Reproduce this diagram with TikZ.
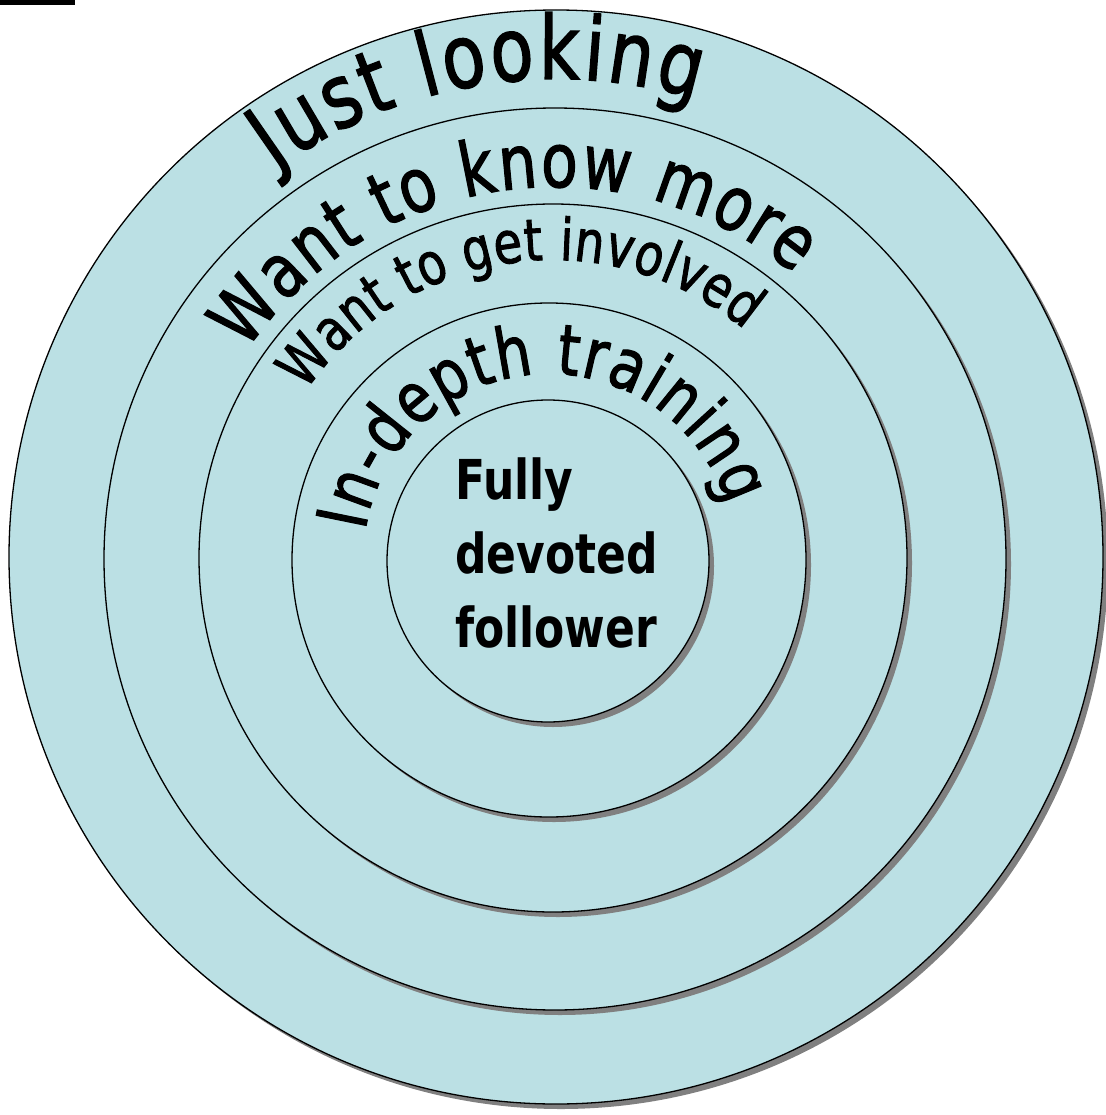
\documentclass[tikz,border=0pt]{standalone}
\usepackage{fontspec}
\setmainfont{DejaVu Sans}
\newfontfamily\arcfont[FakeStretch=0.8, FakeBold=1.6]{DejaVu Sans}
\newfontfamily\corefont[FakeStretch=0.8]{DejaVu Sans}
\usetikzlibrary{decorations.text}
\definecolor{ringblue}{RGB}{187,224,228}

\begin{document}
\begin{tikzpicture}[
    x=1pt, y=1pt,
    ring/.style={draw=black, line width=1.3pt, fill=ringblue},
    ringshadow/.style={fill=black!50},
    arclabel/.style={decorate, decoration={text along path, text align=fit to path, text={#1}}}
]
\useasboundingbox (0,0) rectangle (1105,-1115);
\fill (0,0) rectangle (75,-5);

% centres of the five rings
\coordinate (c1) at (556,-557);
\coordinate (c2) at (555,-559);
\coordinate (c3) at (553,-558);
\coordinate (c4) at (549,-560);
\coordinate (c5) at (548,-561);

\foreach \c/\r in {c1/547, c2/451, c3/354, c4/257, c5/161} {
  \fill[ringshadow] ([shift={(5,-5)}]\c) circle[radius=\r];
  \draw[ring] (\c) circle[radius=\r];
}

% labels along the rings
\path[arclabel={|\arcfont\fontsize{88}{88}\selectfont|Just looking}]
  ([shift={(126:478)}]c1) arc[start angle=126, end angle=73, radius=478];
\path[arclabel={|\arcfont\fontsize{75}{75}\selectfont|Want to know more}]
  ([shift={(146:372)}]c2) arc[start angle=146, end angle=50, radius=372];
\path[arclabel={|\arcfont\fontsize{58}{58}\selectfont|Want to get involved}]
  ([shift={(146:298)}]c3) arc[start angle=146, end angle=50, radius=298];
\path[arclabel={|\arcfont\fontsize{70}{70}\selectfont|In-depth training}]
  ([shift={(171:186)}]c4) arc[start angle=171, end angle=17, radius=186];

\node[font=\corefont\bfseries\fontsize{55}{74}\selectfont, align=left,
      anchor=north west, inner sep=0pt] (core) at (455,-458) {Fully\\devoted\\follower};
\end{tikzpicture}
\end{document}
